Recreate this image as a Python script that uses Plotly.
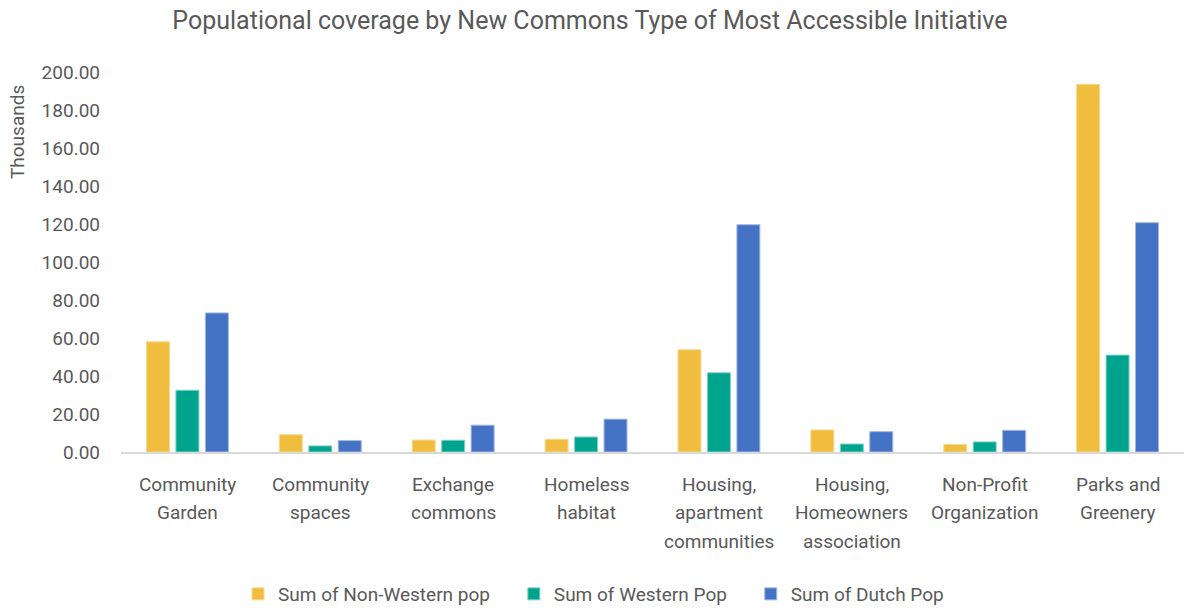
import plotly.graph_objects as go

categories = [
    "Community<br>Garden",
    "Community<br>spaces",
    "Exchange<br>commons",
    "Homeless<br>habitat",
    "Housing,<br>apartment<br>communities",
    "Housing,<br>Homeowners<br>association",
    "Non-Profit<br>Organization",
    "Parks and<br>Greenery",
]

# Population in thousands
non_western_pop = [58.0, 9.1, 6.3, 6.7, 53.8, 11.6, 3.9, 193.5]
western_pop = [32.5, 3.2, 6.2, 7.9, 41.7, 4.2, 5.3, 51.0]
dutch_pop = [73.2, 6.0, 14.1, 17.3, 119.6, 10.7, 11.4, 120.7]

series_names = ["Sum of Non-Western pop", "Sum of Western Pop", "Sum of Dutch Pop"]
series_colors = ["#F0BD3F", "#00A38D", "#4472C4"]
edge_colors = ["#F7D98F", "#7FD1C5", "#A1B8E1"]

y_ticks = [0, 20, 40, 60, 80, 100, 120, 140, 160, 180, 200]

FONT = "Roboto, Arial, sans-serif"
GREY = "#595959"
PAD = "\u00a0" * 4  # extra room after each legend entry

fig = go.Figure()
for i, (name, vals, col, edge) in enumerate(zip(
        series_names, [non_western_pop, western_pop, dutch_pop],
        series_colors, edge_colors)):
    label = name + (PAD if i < len(series_names) - 1 else "")
    fig.add_trace(go.Bar(
        x=categories, y=vals, name=label,
        marker=dict(color=col, line=dict(color=edge, width=1)),
    ))

fig.update_layout(
    width=1187, height=608,
    paper_bgcolor="white", plot_bgcolor="white",
    margin=dict(l=121, r=3, t=72, b=156, autoexpand=False),
    barmode="group", bargap=0.335, bargroupgap=0.22,
    font=dict(family=FONT, color=GREY, size=19),
    title=dict(
        text="Populational coverage by New Commons Type of Most Accessible Initiative",
        x=0.497, xref="container", xanchor="center",
        y=0.966, yanchor="middle",
        font=dict(family=FONT, size=25, color=GREY),
    ),
    legend=dict(
        orientation="h", xref="container", x=0.5, xanchor="center",
        yref="container", y=0.023, yanchor="middle",
        font=dict(family=FONT, size=19, color=GREY),
        traceorder="normal",
    ),
    showlegend=True,
)

fig.update_xaxes(
    showline=True, linecolor="#D9D9D9", linewidth=2,
    showgrid=False, ticks="", showticklabels=False, automargin=False,
)
fig.update_yaxes(
    range=[0, 200], tickvals=y_ticks,
    ticktext=[f"{v:.2f}" for v in y_ticks],
    showgrid=False, zeroline=False, showline=False, ticks="",
    ticklabelstandoff=20, automargin=False,
    tickfont=dict(family=FONT, size=19, color=GREY),
)

# Category labels, one line at a time for wider line spacing
for cat in categories:
    for j, line in enumerate(cat.split("<br>")):
        fig.add_annotation(
            text=line, x=cat, xref="x", yref="paper", y=0,
            xanchor="center", yanchor="middle",
            yshift=-32 - 28.7 * j, showarrow=False,
            font=dict(family=FONT, size=19, color=GREY),
        )

fig.add_annotation(
    text="Thousands", textangle=-90,
    xref="paper", yref="paper", x=0, y=0.842,
    xanchor="center", yanchor="middle", xshift=-104, showarrow=False,
    font=dict(family=FONT, size=19, color=GREY),
)

fig.write_html("out.html")
